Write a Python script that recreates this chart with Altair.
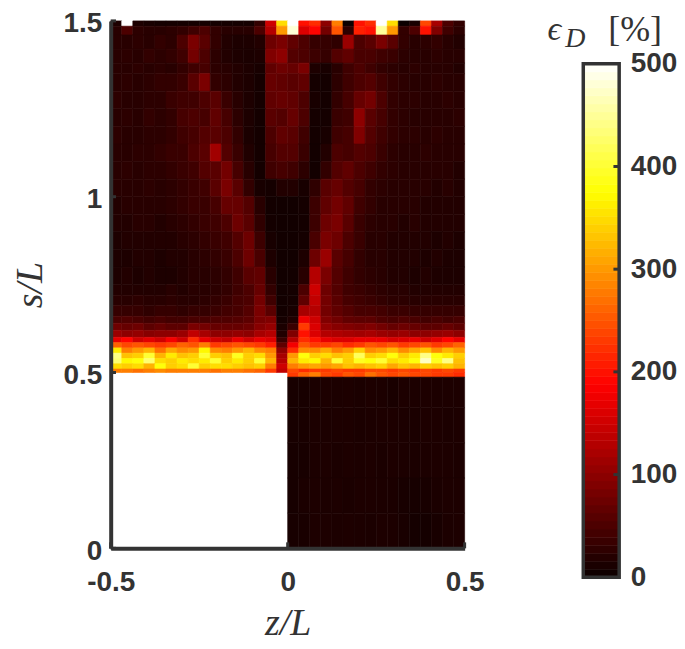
import altair as alt
import pandas as pd

N_COLS = 32
z_edges = [-0.5 + i / N_COLS for i in range(N_COLS + 1)]
s_edges = [1.5, 1.485, 1.46, 1.42, 1.38, 1.35, 1.30, 1.25, 1.20, 1.15, 1.10, 1.05, 1.0, 0.95, 0.90, 0.85,
           0.80, 0.75, 0.72, 0.69, 0.66, 0.64, 0.62, 0.60, 0.585, 0.57, 0.555, 0.54, 0.525, 0.51, 0.50]

upper_rows = [
    [14,500,14,10,8,8,8,8,8,8,8,8,8,30,150,350,500,200,220,100,280,0,200,220,500,350,0,10,240,120,50,30],
    [22,50,25,22,22,25,30,40,50,30,22,22,22,50,130,300,480,160,190,80,250,25,210,200,450,300,30,50,200,90,40,25],
    [22,22,25,22,30,25,50,85,60,30,18,14,14,18,75,85,65,50,32,32,28,110,50,60,85,60,30,22,25,30,22,18],
    [22,25,22,30,25,30,40,80,50,25,18,14,12,14,90,100,55,50,38,32,55,65,48,48,40,35,25,22,22,25,22,22],
    [22,22,25,22,25,22,30,40,45,25,22,18,14,10,65,75,70,85,14,10,22,40,50,40,30,25,22,25,22,22,22,18],
    [22,25,22,25,30,30,35,60,85,30,25,18,14,8,70,65,60,65,8,7,25,40,50,55,40,30,25,22,22,25,22,22],
    [25,22,22,25,25,35,40,40,50,60,35,22,14,8,65,70,65,50,10,7,30,45,70,80,50,30,25,25,22,22,25,22],
    [22,25,22,30,25,30,45,50,45,65,45,25,14,7,60,55,70,50,8,8,35,40,100,60,45,30,25,22,22,22,22,25],
    [25,22,22,25,25,30,40,45,55,60,50,30,12,7,50,65,60,40,7,10,40,45,90,55,40,30,25,25,22,25,22,22],
    [22,22,25,25,30,35,35,50,60,115,55,35,16,7,45,55,55,35,6,18,50,45,55,50,35,25,22,22,25,22,22,22],
    [22,25,22,25,25,30,35,40,55,60,80,45,22,7,40,45,40,25,6,30,55,65,50,40,30,25,22,22,22,22,22,18],
    [22,22,22,25,22,25,30,35,40,60,85,60,30,10,8,18,18,10,28,60,70,55,45,30,25,22,22,22,22,18,22,18],
    [18,22,22,22,22,25,30,35,35,45,70,70,55,22,6,5,5,8,38,65,80,65,40,30,22,22,22,22,18,18,18,18],
    [18,18,22,22,18,22,25,30,35,40,50,75,60,28,7,5,5,7,38,75,85,60,35,25,22,22,18,22,18,18,18,18],
    [14,18,18,18,18,18,22,25,30,35,40,55,75,38,10,5,5,8,48,85,75,50,35,22,22,18,18,18,18,14,18,14],
    [14,14,18,18,14,18,18,22,25,30,35,50,75,48,14,5,5,14,75,110,60,45,30,22,22,18,18,18,14,18,14,14],
    [14,18,14,18,14,14,18,22,22,25,30,40,60,65,22,5,6,22,130,85,55,40,30,25,22,18,18,14,18,14,14,14],
    [18,18,18,18,18,22,18,22,22,25,30,40,50,70,30,6,8,50,150,75,55,40,35,30,25,22,22,18,18,18,18,18],
    [22,22,25,22,22,25,22,22,25,30,35,45,50,80,40,6,8,65,140,80,60,45,40,35,30,25,25,22,22,22,22,22],
    [32,32,32,28,32,32,28,32,32,36,42,46,56,85,60,6,10,120,130,80,65,55,46,46,42,36,36,32,32,32,32,32],
    [48,52,48,42,48,42,42,48,48,52,52,56,62,85,90,8,16,175,150,90,78,66,62,62,52,48,52,48,42,48,42,48],
    [75,70,75,62,70,62,62,85,80,70,70,70,75,95,105,12,35,230,160,105,95,90,85,90,80,70,75,70,62,62,70,62],
    [110,100,105,95,100,100,110,140,120,100,100,105,100,120,130,18,90,200,160,130,125,120,115,120,110,105,110,100,100,105,110,100],
    [170,190,150,165,150,180,150,220,170,150,140,170,150,170,160,35,130,220,200,170,160,160,170,170,170,155,160,170,150,165,190,170],
    [260,240,250,240,230,240,260,250,280,230,240,250,240,230,210,65,180,250,230,230,240,220,230,250,240,250,230,240,250,230,240,260],
    [360,280,300,320,270,310,290,300,370,290,280,300,320,290,280,100,220,290,290,310,280,300,340,290,300,320,290,310,330,290,320,300],
    [440,330,340,400,320,360,330,340,400,340,330,390,340,350,300,120,300,380,340,350,330,340,420,340,350,380,340,360,440,380,360,340],
    [430,370,380,430,350,340,360,350,360,400,340,360,340,400,320,130,320,360,370,320,400,340,390,380,400,350,360,380,470,390,440,330],
    [350,340,350,320,380,340,350,400,340,350,350,340,330,340,280,150,280,300,310,300,310,330,320,330,340,310,330,320,340,330,340,320],
    [280,280,270,280,290,280,280,280,280,270,280,280,270,260,230,140,240,220,230,230,240,230,230,240,240,230,240,230,240,230,240,230],
]

lower_s_edges = [0.50, 0.487, 0.40, 0.30, 0.20, 0.10, 0.0]
lower_rows = [
    [230,260,280,240,230,250,240,270,250,240,250,240,240,230,230,220],
    [10,10,12,14,13,14,12,14,13,11,14,13,14,13,14,14],
    [10,11,13,13,14,14,12,13,14,14,13,12,14,14,13,14],
    [9,10,13,14,12,14,13,14,12,14,13,12,13,14,14,13],
    [9,12,14,13,14,12,14,14,13,12,10,9,10,12,14,14],
    [10,11,14,14,13,14,13,12,14,13,11,8,8,10,13,14],
]

y_ticks = [0, 0.5, 1, 1.5]
x_ticks = [-0.5, 0, 0.5]
cbar_ticks = [100, 200, 300, 400]
cbar_labels = [0, 100, 200, 300, 400, 500]
hot_stops = [0, 187.5, 375, 500]
hot_colors = ["#0b0000", "#ff0000", "#ffff00", "#ffffff"]
N_BANDS = 64

cells = []
for r, row in enumerate(upper_rows):
    for c, v in enumerate(row):
        cells.append(dict(z1=z_edges[c], z2=z_edges[c + 1], s1=s_edges[r + 1], s2=s_edges[r], v=v))
for r, row in enumerate(lower_rows):
    for c, v in enumerate(row):
        cells.append(dict(z1=z_edges[c + 16], z2=z_edges[c + 17],
                          s1=lower_s_edges[r + 1], s2=lower_s_edges[r], v=v))
cells = pd.DataFrame(cells)

INK = "#333333"
TICK_FONT = "Liberation Sans"
MATH_FONT = "Liberation Serif"
color_scale = alt.Scale(domain=hot_stops, range=hot_colors, interpolate="rgb", clamp=True)

x_scale = alt.Scale(domain=[-0.5, 0.5], nice=False, zero=False)
y_scale = alt.Scale(domain=[0, 1.5], nice=False, zero=False)

heat = alt.Chart(cells).mark_rect(strokeWidth=0.6).encode(
    x=alt.X("z1:Q", scale=x_scale, axis=alt.Axis(
        values=x_ticks, labelExpr="'' + datum.value", grid=False, tickSize=0, domainColor=INK, domainWidth=4, labelFlush=False,
        labelFont=TICK_FONT, labelFontWeight="bold", labelFontSize=28, labelColor=INK, labelPadding=20,
        title="z/L", titleFont=MATH_FONT, titleFontStyle="italic", titleFontWeight="normal",
        titleFontSize=38, titleColor=INK, titlePadding=8, zindex=1)),
    x2="z2:Q",
    y=alt.Y("s1:Q", scale=y_scale, axis=alt.Axis(
        values=y_ticks, format="~g", grid=False, tickSize=0, domainColor=INK, domainWidth=4, labelFlush=False,
        labelOffset=3,
        labelFont=TICK_FONT, labelFontWeight="bold", labelFontSize=28, labelColor=INK, labelPadding=9,
        title="s/L", titleFont=MATH_FONT, titleFontStyle="italic", titleFontWeight="normal",
        titleFontSize=38, titleColor=INK, titlePadding=13, zindex=1)),
    y2="s2:Q",
    color=alt.Color("v:Q", scale=color_scale, legend=None),
    stroke=alt.Color("v:Q", scale=color_scale, legend=None),
)

x_tick_df = pd.DataFrame({"z": x_ticks, "s0": [0] * 3, "s1": [0.017] * 3})
y_tick_df = pd.DataFrame({"s": y_ticks, "z0": [-0.5] * 4, "z1": [-0.485] * 4})
x_tick_marks = alt.Chart(x_tick_df).mark_rule(color=INK, strokeWidth=3).encode(
    x=alt.X("z:Q", scale=x_scale), y=alt.Y("s0:Q", scale=y_scale), y2="s1:Q")
y_tick_marks = alt.Chart(y_tick_df).mark_rule(color=INK, strokeWidth=3).encode(
    y=alt.Y("s:Q", scale=y_scale), x=alt.X("z0:Q", scale=x_scale), x2="z1:Q")

main = alt.layer(heat, x_tick_marks, y_tick_marks).properties(width=355, height=529)

bands = pd.DataFrame({
    "lo": [500 * i / N_BANDS for i in range(N_BANDS)],
    "hi": [500 * (i + 1) / N_BANDS for i in range(N_BANDS)],
})
bands["mid"] = (bands["lo"] + bands["hi"]) / 2
bands["x0"] = 0
bands["x1"] = 1

cb_y = alt.Scale(domain=[0, 500], range=[558, 43], nice=False, zero=False)
cb_x = alt.Scale(domain=[0, 1], nice=False, zero=False)

cb_rect = alt.Chart(bands).mark_rect(strokeWidth=0.6).encode(
    x=alt.X("x0:Q", scale=cb_x, axis=None), x2="x1:Q",
    y=alt.Y("lo:Q", scale=cb_y, axis=alt.Axis(
        orient="right", values=cbar_labels, grid=False, domain=False, ticks=False, title=None, labelFlush=False,
        labelFont=TICK_FONT, labelFontWeight="bold", labelFontSize=28, labelColor=INK, labelPadding=11)),
    y2="hi:Q",
    color=alt.Color("mid:Q", scale=color_scale, legend=None),
    stroke=alt.Color("mid:Q", scale=color_scale, legend=None),
)
frame_df = pd.DataFrame({"x0": [0], "x1": [1], "lo": [0], "hi": [500]})
cb_frame = alt.Chart(frame_df).mark_rect(fillOpacity=0, stroke=INK, strokeWidth=3.5).encode(
    x=alt.X("x0:Q", scale=cb_x, axis=None), x2="x1:Q",
    y=alt.Y("lo:Q", scale=cb_y), y2="hi:Q")
cb_tick_df = pd.DataFrame({"v": cbar_ticks, "x0": [0.84] * 4, "x1": [1] * 4})
cb_ticks = alt.Chart(cb_tick_df).mark_rule(color=INK, strokeWidth=3).encode(
    y=alt.Y("v:Q", scale=cb_y), x=alt.X("x0:Q", scale=cb_x, axis=None), x2="x1:Q")


def label(text, px, py, size, style="normal"):
    return alt.Chart(pd.DataFrame({"t": [text]})).mark_text(
        font=MATH_FONT, fontSize=size, fontStyle=style, color=INK, align="center", baseline="middle"
    ).encode(text="t:N", x=alt.value(px), y=alt.value(py))


cb_title = [
    label("ϵ", -29, 9, 34, "italic"),
    label("D", -8, 18, 28, "italic"),
    label("[%]", 52, 9, 36),
]

colorbar = alt.layer(cb_rect, cb_frame, cb_ticks, *cb_title).properties(width=36, height=529)

chart = alt.hconcat(main, colorbar, spacing=119, bounds="flush").resolve_scale(
    color="independent", x="independent", y="independent"
).properties(padding={"left": 4, "top": 1, "right": 0, "bottom": 0}).configure_view(stroke=None)

chart.save("out.html", embed_options={"renderer": "svg", "actions": False})
